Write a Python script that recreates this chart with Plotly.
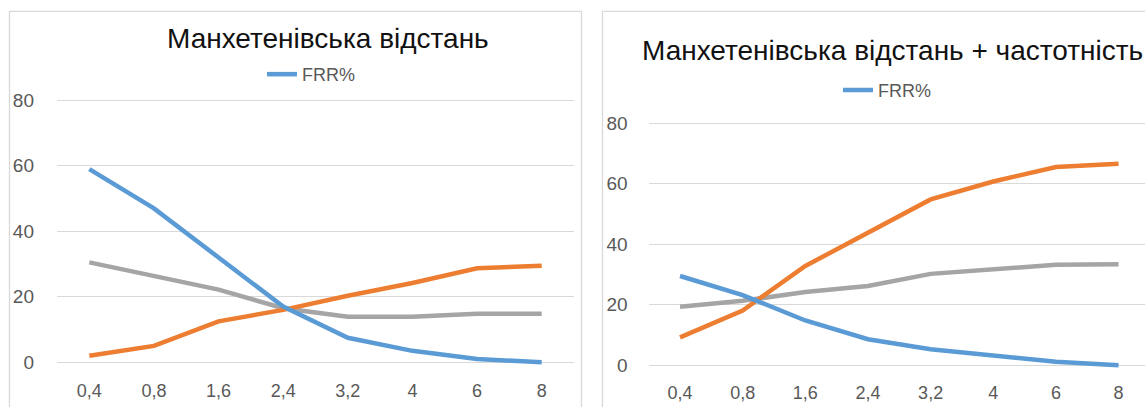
import plotly.graph_objects as go

# Threshold values on the x axis (shown with decimal commas)
thresholds = ["0,4", "0,8", "1,6", "2,4", "3,2", "4", "6", "8"]

# Manhattan distance
manh_frr = [59, 47, 32, 17, 7.5, 3.5, 1, 0]
manh_far = [2, 5, 12.5, 16, 20.3, 24.2, 28.7, 29.5]
manh_err = [30.5, 26.3, 22.2, 16.5, 13.9, 13.9, 14.8, 14.8]

# Manhattan distance + frequency
freq_frr = [29.5, 23.2, 14.8, 8.6, 5.3, 3.2, 1.2, 0]
freq_far = [9.2, 18.1, 32.8, 43.9, 54.8, 60.7, 65.5, 66.6]
freq_err = [19.3, 21.3, 24.2, 26.2, 30.2, 31.8, 33.2, 33.4]

y_ticks = [0, 20, 40, 60, 80]

BLUE = "#5B9BD5"
ORANGE = "#ED7D31"
GRAY = "#A5A5A5"
TICK = "#595959"
GRID = "#D9D9D9"
FONT = "Liberation Sans"

W, H = 1145, 407


def px(x):
    return x / W


def py(y):
    return 1 - y / H


fig = go.Figure()

panels = [
    ("x", "y", manh_frr, manh_far, manh_err, "legend"),
    ("x2", "y2", freq_frr, freq_far, freq_err, "legend2"),
]
for xa, ya, frr, far, err, lg in panels:
    fig.add_trace(go.Scatter(x=thresholds, y=err, mode="lines", xaxis=xa, yaxis=ya,
                             line=dict(color=GRAY, width=4.5), showlegend=False, name="ERR%"))
    fig.add_trace(go.Scatter(x=thresholds, y=far, mode="lines", xaxis=xa, yaxis=ya,
                             line=dict(color=ORANGE, width=4.5), showlegend=False, name="FAR%"))
    fig.add_trace(go.Scatter(x=thresholds, y=frr, mode="lines", xaxis=xa, yaxis=ya,
                             line=dict(color=BLUE, width=4.5), showlegend=True, name="FRR%",
                             legend=lg))

xcommon = dict(type="category", showgrid=False, zeroline=False, showline=False, ticks="",
               tickfont=dict(family=FONT, size=18, color=TICK), ticklabelstandoff=6,
               fixedrange=True)
ycommon = dict(tickvals=y_ticks, showgrid=True, gridcolor=GRID, gridwidth=1.3, zeroline=False,
               showline=False, ticks="", tickfont=dict(family=FONT, size=19, color=TICK),
               fixedrange=True)

# left panel: category step ~64.7 px, value scale 3.3 px per unit
fig.update_layout(
    xaxis=dict(**xcommon, domain=[px(57), px(574)], range=[-0.5, 7.5], anchor="y"),
    yaxis=dict(**ycommon, domain=[py(364 + 3.3 * 3), py(364 - 3.3 * 83)], range=[-3, 83],
               anchor="x", ticklabelstandoff=22),
    xaxis2=dict(**xcommon, domain=[px(648.7), 1], range=[-0.5, 7.5 - (1149.9 - W) / 62.57],
                anchor="y2"),
    yaxis2=dict(**ycommon, domain=[py(367 + 3.05 * 3), py(367 - 3.05 * 83)], range=[-3, 83],
                anchor="x2", ticklabelstandoff=20),
)

legend_style = dict(orientation="h", font=dict(family=FONT, size=18, color=TICK),
                    bgcolor="rgba(0,0,0,0)", itemwidth=30, xanchor="left", yanchor="middle",
                    tracegroupgap=0)
fig.update_layout(
    legend=dict(**legend_style, x=px(262), y=py(74)),
    legend2=dict(**legend_style, x=px(838), y=py(90)),
)

# chart frames
fig.add_shape(type="rect", xref="paper", yref="paper", x0=px(9.5), x1=px(581.5),
              y0=py(420), y1=py(10.5), line=dict(color=GRID, width=1.3), layer="below")
fig.add_shape(type="rect", xref="paper", yref="paper", x0=px(602.5), x1=px(1160),
              y0=py(420), y1=py(10.5), line=dict(color=GRID, width=1.3), layer="below")

fig.add_annotation(text="Манхетенівська відстань", xref="paper", yref="paper",
                   x=px(328), y=py(38), showarrow=False, xanchor="center", yanchor="middle",
                   font=dict(family=FONT, size=28, color="#111111"))
fig.add_annotation(text="Манхетенівська відстань + частотність", xref="paper", yref="paper",
                   x=px(892), y=py(50), showarrow=False, xanchor="center", yanchor="middle",
                   font=dict(family=FONT, size=28, color="#111111"))

fig.update_layout(width=W, height=H, margin=dict(l=0, r=0, t=0, b=0),
                  paper_bgcolor="white", plot_bgcolor="white")

fig.write_html("out.html", config={"displayModeBar": False})
